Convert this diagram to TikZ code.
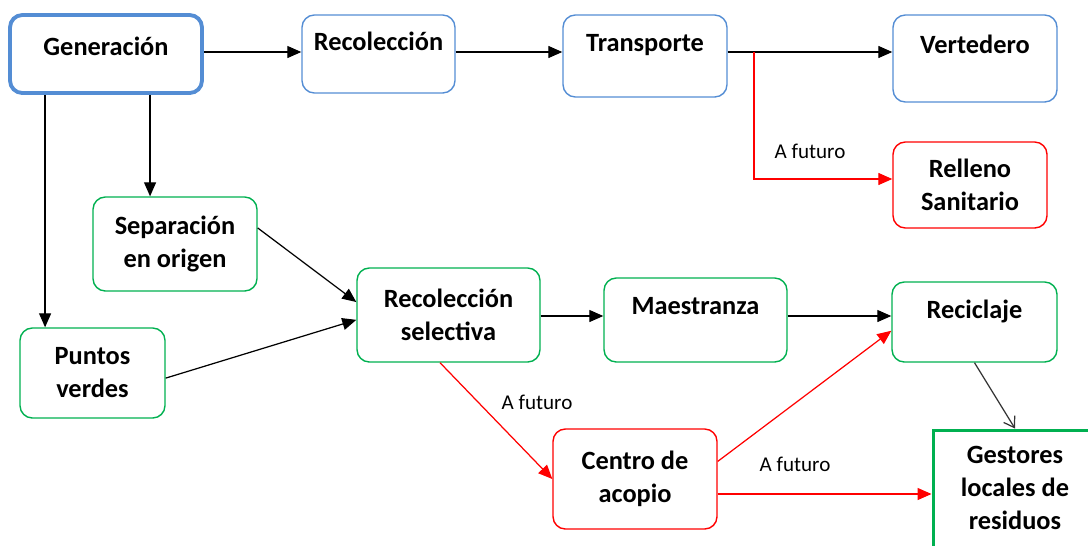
\documentclass[tikz,border=0pt]{standalone}
\usepackage{fontspec}
\setmainfont{Carlito}
\usetikzlibrary{arrows.meta}
\definecolor{boxblue}{RGB}{84,141,212}
\definecolor{boxgreen}{RGB}{0,176,80}
\definecolor{boxred}{RGB}{255,0,0}
\begin{document}
\begin{tikzpicture}[x=0.02cm,y=-0.02cm,
  box/.style={draw,rounded corners=7pt,line width=0.8pt,align=center,inner sep=0pt,font=\fontsize{15}{18.8}\selectfont\bfseries},
  bluebox/.style={box,draw=boxblue},
  greenbox/.style={box,draw=boxgreen},
  redbox/.style={box,draw=boxred},
  uptext/.style={text height=11pt,text depth=#1},
  arr/.style={-{Triangle[length=2.8mm,width=2.4mm]},line width=0.7pt},
  redarr/.style={arr,color=boxred},
  afut/.style={font=\fontsize{12}{14}\selectfont}]
\useasboundingbox (0,0) rectangle (1088,545);
\node[bluebox,line width=2.2pt,minimum width=3.84cm,minimum height=1.56cm,uptext=9.4pt] (gen) at (106,54) {Generación};
\node[bluebox,minimum width=3.06cm,minimum height=1.56cm,uptext=15pt] (rec) at (378.5,54) {Recolección};
\node[bluebox,minimum width=3.28cm,minimum height=1.64cm,uptext=16pt] (trans) at (645,56) {Transporte};
\node[bluebox,minimum width=3.28cm,minimum height=1.74cm,uptext=17pt] (vert) at (975,58.5) {Vertedero};
\node[redbox,minimum width=3.08cm,minimum height=1.72cm] (rell) at (970,185) {Relleno\\Sanitario};
\node[greenbox,minimum width=3.28cm,minimum height=1.88cm] (sep) at (175,244) {Separación\\en origen};
\node[greenbox,minimum width=2.9cm,minimum height=1.8cm] (pv) at (92.5,373) {Puntos\\verdes};
\node[greenbox,minimum width=3.66cm,minimum height=1.88cm] (rsel) at (448.5,315) {Recolección\\selectiva};
\node[greenbox,minimum width=3.66cm,minimum height=1.68cm,uptext=17.4pt] (maes) at (695.5,320) {Maestranza};
\node[greenbox,minimum width=3.3cm,minimum height=1.6cm,uptext=15pt] (reci) at (974.5,322) {Reciclaje};
\node[redbox,minimum width=3.28cm,minimum height=2cm] (cen) at (635,479) {Centro de\\acopio};
\node[greenbox,sharp corners,line width=1.7pt,minimum width=3.28cm,minimum height=2.6cm,text depth=8pt] (gest) at (1015,495) {Gestores\\locales de\\residuos};
\coordinate (toprow) at (0,52);
\coordinate (rellrow) at (0,179);
\coordinate (midrow) at (0,316);
\coordinate (lowrow) at (0,494);
\coordinate (split) at (754,52);
\draw[arr] (gen.east |- toprow) -- (rec.west |- toprow);
\draw[arr] (rec.east |- toprow) -- (trans.west |- toprow);
\draw[arr] (trans.east |- toprow) -- (vert.west |- toprow);
\draw[redarr] (split) -- (split |- rellrow) -- (rell.west |- rellrow);
\draw[arr] ([xshift=0.74cm]gen.south west) -- ([xshift=0.74cm]gen.south west |- pv.north);
\draw[arr] ([xshift=2.84cm]gen.south west) -- ([xshift=2.84cm]gen.south west |- sep.north);
\draw[arr] (sep.11) -- (rsel.172);
\draw[arr] (pv.-4) -- (rsel.183);
\draw[arr] (rsel.east |- midrow) -- (maes.west |- midrow);
\draw[arr] (maes.east |- midrow) -- (reci.west |- midrow);
\draw[redarr] ([xshift=-0.17cm]rsel.south) -- (cen.west);
\draw[redarr] (cen.12) -- (reci.186);
\draw[redarr] (cen.east |- lowrow) -- (gest.west |- lowrow);
\draw[-{Straight Barb[length=2mm,width=2.6mm]},line width=0.7pt,draw=black!80] (reci.south) -- (gest.north);
\node[afut] (lab1) at (810,151) {A futuro};
\node[afut] (lab2) at (537,402) {A futuro};
\node[afut] (lab3) at (795,464) {A futuro};
\end{tikzpicture}
\end{document}
